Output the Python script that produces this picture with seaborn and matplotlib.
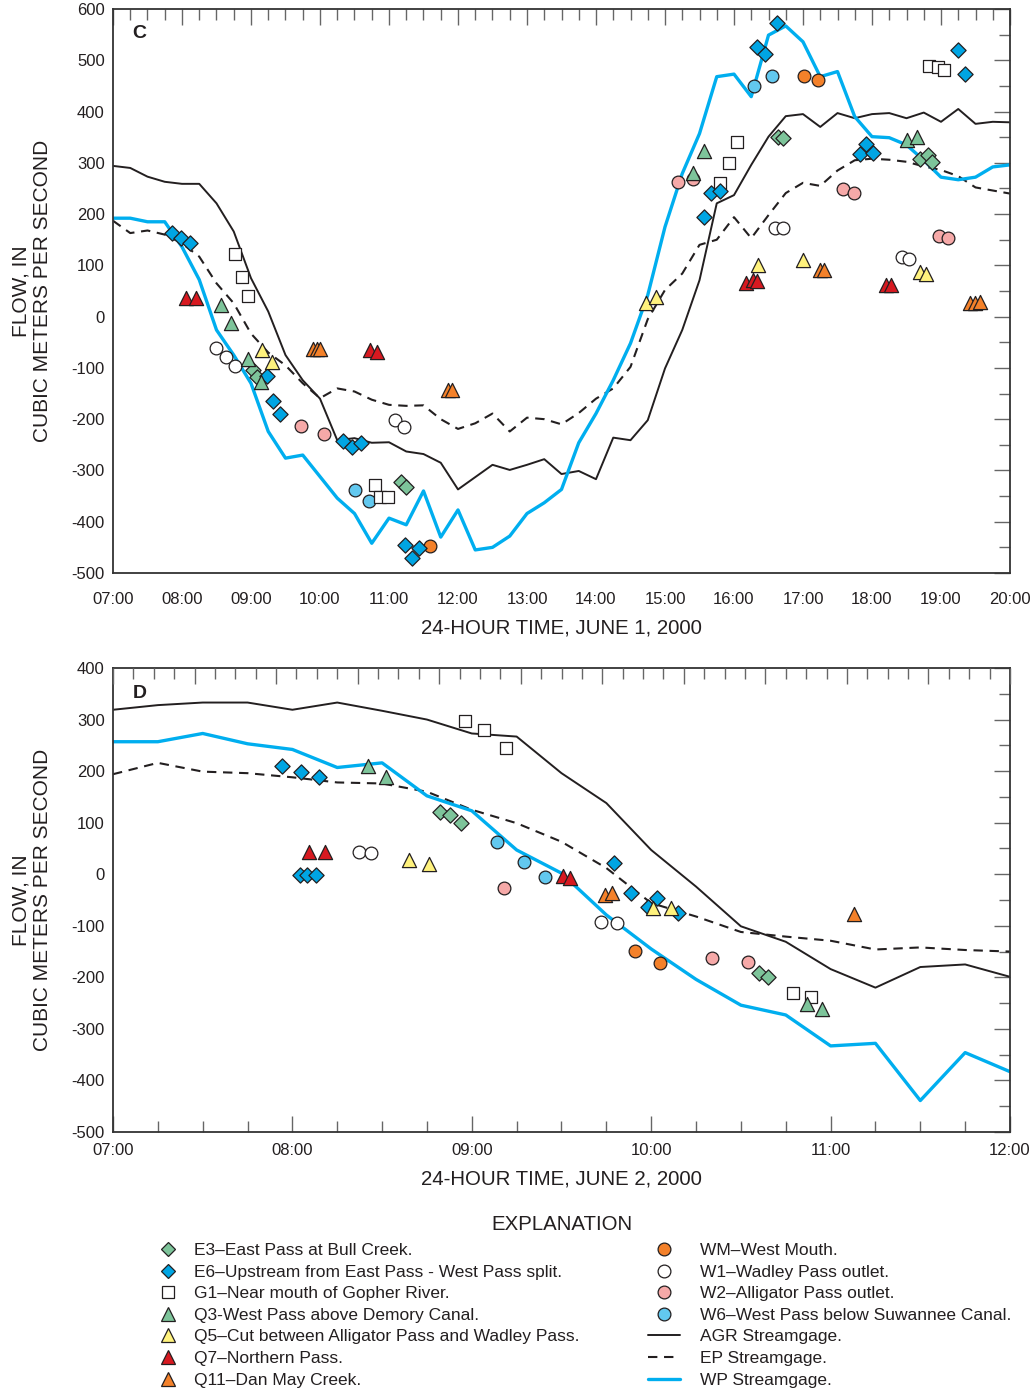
import numpy as np
import pandas as pd
import matplotlib
matplotlib.use("Agg")
import matplotlib.pyplot as plt
from matplotlib.ticker import MultipleLocator, FuncFormatter
from matplotlib.lines import Line2D
import seaborn as sns

# ---------------------------------------------------------------------------
# Streamgage records (15-minute values), flow in cubic meters per second
# ---------------------------------------------------------------------------
c_hours = np.arange(7.0, 20.001, 0.25)
c_agr = [294, 290, 273, 263, 259, 259, 221, 166, 75, 10, -75, -124, -160,
         -241, -237, -246, -245, -263, -268, -285, -337, -313, -289, -299,
         -289, -278, -307, -301, -317, -236, -241, -202, -101, -26, 71, 221,
         237, 296, 351, 391, 395, 370, 397, 387, 395, 397, 387, 398, 380,
         405, 376, 380, 379]
c_ep = [187, 163, 168, 160, 143, 117, 65, 26, -33, -70, -95, -130, -159,
        -140, -146, -162, -172, -174, -173, -200, -219, -208, -189, -224,
        -197, -200, -210, -188, -160, -140, -98, -5, 52, 84, 140, 150, 194,
        153, 198, 241, 261, 255, 285, 305, 308, 306, 302, 293, 286, 274,
        252, 246, 240]
c_wp = [192, 192, 185, 185, 136, 72, -26, -75, -130, -224, -276, -270,
        -312, -354, -384, -442, -393, -406, -340, -430, -377, -455, -450,
        -428, -384, -363, -337, -246, -189, -124, -52, 42, 175, 279, 357,
        468, 473, 429, 549, 567, 536, 468, 478, 390, 351, 349, 335, 305,
        272, 267, 272, 292, 296]

d_hours = np.arange(7.0, 12.001, 0.25)
d_agr = [319, 328, 333, 333, 319, 333, 317, 300, 273, 267, 196, 138, 47,
         -24, -101, -131, -184, -220, -180, -175, -199]
d_ep = [194, 216, 199, 196, 188, 178, 176, 160, 125, 99, 63, 12, -56, -82,
        -112, -121, -129, -146, -142, -147, -150]
d_wp = [257, 257, 273, 253, 242, 207, 216, 152, 123, 47, 2, -79, -145,
        -204, -254, -273, -333, -328, -439, -346, -383]

# ---------------------------------------------------------------------------
# Site measurements, June 1, 2000 (hour of day, flow)
# ---------------------------------------------------------------------------
c_e3_hour = [9.03, 9.08, 11.17, 11.25, 16.64, 16.71, 18.70, 18.81, 18.87]
c_e3_flow = [-104, -117, -322, -333, 351, 348, 307, 315, 301]
c_e6_hour = [7.86, 7.99, 8.12, 9.23, 9.32, 9.42, 10.34, 10.47, 10.59, 11.23,
             11.34, 11.43, 15.56, 15.66, 15.79, 16.33, 16.45, 16.63, 17.82,
             17.91, 18.01, 19.24, 19.35]
c_e6_flow = [163, 153, 144, -115, -164, -189, -242, -254, -247, -445, -470,
             -451, 194, 242, 245, 526, 513, 572, 318, 336, 320, 520, 473]
c_g1_hour = [8.77, 8.87, 8.96, 10.80, 10.87, 10.99, 15.80, 15.93, 16.05,
             18.83, 18.95, 19.05]
c_g1_flow = [122, 78, 41, -328, -352, -352, 260, 299, 341, 489, 486, 482]
c_q3_hour = [8.56, 8.71, 8.96, 9.14, 15.41, 15.57, 18.51, 18.65]
c_q3_flow = [23, -12, -83, -127, 281, 324, 344, 351]
c_q5_hour = [9.16, 9.31, 14.72, 14.87, 16.35, 17.00, 18.70, 18.78]
c_q5_flow = [-65, -88, 26, 38, 101, 110, 88, 83]
c_q7_hour = [8.06, 8.20, 10.72, 10.83, 16.18, 16.27, 16.34, 18.20, 18.28]
c_q7_flow = [36, 36, -65, -68, 65, 71, 70, 62, 62]
c_q11_hour = [9.90, 9.95, 10.00, 11.86, 11.91, 17.25, 17.30, 19.42, 19.49,
              19.57]
c_q11_flow = [-64, -64, -64, -143, -143, 91, 91, 26, 26, 29]
c_wm_hour = [11.59, 17.02, 17.22]
c_wm_flow = [-447, 469, 462]
c_w1_hour = [8.49, 8.64, 8.77, 11.08, 11.22, 16.59, 16.71, 18.43, 18.53]
c_w1_flow = [-61, -78, -96, -202, -215, 173, 173, 117, 112]
c_w2_hour = [9.72, 10.06, 15.19, 15.41, 17.58, 17.74, 18.97, 19.10]
c_w2_flow = [-213, -228, 263, 268, 249, 242, 158, 153]
c_w6_hour = [10.51, 10.71, 16.29, 16.55]
c_w6_flow = [-338, -359, 450, 469]

# Site measurements, June 2, 2000
d_e3_hour = [8.82, 8.88, 8.94, 10.60, 10.65]
d_e3_flow = [121, 115, 99, -191, -199]
d_e6_hour = [7.94, 8.05, 8.15, 8.04, 8.08, 8.13, 9.79, 9.89, 9.98, 10.03,
             10.15]
d_e6_flow = [209, 199, 188, -2, -2, -2, 22, -37, -63, -47, -75]
d_g1_hour = [8.96, 9.07, 9.19, 10.79, 10.89]
d_g1_flow = [298, 280, 244, -231, -239]
d_q3_hour = [8.42, 8.52, 10.87, 10.95]
d_q3_flow = [210, 188, -252, -262]
d_q5_hour = [8.65, 8.76, 10.01, 10.11]
d_q5_flow = [28, 20, -65, -66]
d_q7_hour = [8.09, 8.18, 9.51, 9.55]
d_q7_flow = [44, 44, -3, -8]
d_q11_hour = [9.74, 9.78, 11.13]
d_q11_flow = [-40, -37, -78]
d_wm_hour = [9.91, 10.05]
d_wm_flow = [-149, -173]
d_w1_hour = [8.37, 8.44, 9.72, 9.81]
d_w1_flow = [44, 42, -93, -94]
d_w2_hour = [9.18, 10.34, 10.54]
d_w2_flow = [-27, -163, -170]
d_w6_hour = [9.14, 9.29, 9.41]
d_w6_flow = [63, 23, -6]

# ---------------------------------------------------------------------------
# Styling
# ---------------------------------------------------------------------------
sns.set_style("white")
plt.rcParams["font.family"] = ["Liberation Sans", "DejaVu Sans"]
plt.rcParams["axes.unicode_minus"] = False

EDGE = "#231f20"
GREEN = "#7dc49a"
BLUE = "#00a5e3"
YELLOW = "#fff27d"
RED = "#d71920"
ORANGE = "#f4812a"
PINK = "#f6a9a8"
LIGHTBLUE = "#62c8ef"
WP_BLUE = "#00aeef"

# site key -> (label, marker, face colour, scatter size, legend size)
site_style = {
    "E3": ("E3\u2013East Pass at Bull Creek.", "D", GREEN, 60, 7.2),
    "E6": ("E6\u2013Upstream from East Pass - West Pass split.", "D", BLUE, 60, 7.2),
    "G1": ("G1\u2013Near mouth of Gopher River.", "s", "white", 66, 8.0),
    "Q3": ("Q3-West Pass above Demory Canal.", "^", GREEN, 104, 10.0),
    "Q5": ("Q5\u2013Cut between Alligator Pass and Wadley Pass.", "^", YELLOW, 104, 10.0),
    "Q7": ("Q7\u2013Northern Pass.", "^", RED, 104, 10.0),
    "Q11": ("Q11\u2013Dan May Creek.", "^", ORANGE, 104, 10.0),
    "WM": ("WM\u2013West Mouth.", "o", ORANGE, 84, 9.2),
    "W1": ("W1\u2013Wadley Pass outlet.", "o", "white", 84, 9.2),
    "W2": ("W2\u2013Alligator Pass outlet.", "o", PINK, 84, 9.2),
    "W6": ("W6\u2013West Pass below Suwannee Canal.", "o", LIGHTBLUE, 84, 9.2),
}
draw_order = ["W2", "W1", "W6", "WM", "G1", "E3", "E6", "Q3", "Q5", "Q7", "Q11"]

day1_sites = {
    "E3": (c_e3_hour, c_e3_flow), "E6": (c_e6_hour, c_e6_flow),
    "G1": (c_g1_hour, c_g1_flow), "Q3": (c_q3_hour, c_q3_flow),
    "Q5": (c_q5_hour, c_q5_flow), "Q7": (c_q7_hour, c_q7_flow),
    "Q11": (c_q11_hour, c_q11_flow), "WM": (c_wm_hour, c_wm_flow),
    "W1": (c_w1_hour, c_w1_flow), "W2": (c_w2_hour, c_w2_flow),
    "W6": (c_w6_hour, c_w6_flow),
}
day2_sites = {
    "E3": (d_e3_hour, d_e3_flow), "E6": (d_e6_hour, d_e6_flow),
    "G1": (d_g1_hour, d_g1_flow), "Q3": (d_q3_hour, d_q3_flow),
    "Q5": (d_q5_hour, d_q5_flow), "Q7": (d_q7_hour, d_q7_flow),
    "Q11": (d_q11_hour, d_q11_flow), "WM": (d_wm_hour, d_wm_flow),
    "W1": (d_w1_hour, d_w1_flow), "W2": (d_w2_hour, d_w2_flow),
    "W6": (d_w6_hour, d_w6_flow),
}

AGR_KW = dict(color="#231f20", linewidth=1.4, linestyle="-")
EP_KW = dict(color="#231f20", linewidth=1.5, linestyle=(0, (4.5, 3.2)))
WP_KW = dict(color=WP_BLUE, linewidth=2.4, linestyle="-")

W, H = 1032, 1395
fig = plt.figure(figsize=(W / 100, H / 100), dpi=100)


def px_axes(left, top, right, bottom):
    return fig.add_axes([left / W, 1 - bottom / H, (right - left) / W, (bottom - top) / H])


ax_c = px_axes(113, 9, 1010, 573)
ax_d = px_axes(113, 668, 1010, 1132)


def draw_panel(ax, hours, agr, ep, wp, sites, xlim, ylim, xlabel, xpad, labelpad):
    gages = pd.DataFrame({"hour": hours, "AGR": agr, "EP": ep, "WP": wp})
    sns.lineplot(data=gages, x="hour", y="AGR", ax=ax, estimator=None, sort=False, zorder=2, **AGR_KW)
    sns.lineplot(data=gages, x="hour", y="EP", ax=ax, estimator=None, sort=False, zorder=2, **EP_KW)
    sns.lineplot(data=gages, x="hour", y="WP", ax=ax, estimator=None, sort=False, zorder=2, **WP_KW)

    for z, key in enumerate(draw_order):
        h, f = sites[key]
        _, mk, fc, size, _ = site_style[key]
        sns.scatterplot(x=h, y=f, ax=ax, marker=mk, s=size, color=fc,
                        edgecolor=EDGE, linewidth=0.9, zorder=3 + z * 0.01)

    ax.set_xlim(*xlim)
    ax.set_ylim(*ylim)
    ax.xaxis.set_major_locator(MultipleLocator(1))
    ax.xaxis.set_minor_locator(MultipleLocator(0.25))
    ax.yaxis.set_major_locator(MultipleLocator(100))
    ax.yaxis.set_minor_locator(MultipleLocator(50))
    ax.xaxis.set_major_formatter(FuncFormatter(lambda v, _: f"{int(round(v)):02d}:00"))
    ax.yaxis.set_major_formatter(FuncFormatter(lambda v, _: f"{int(round(v))}"))
    ax.tick_params(which="both", direction="in", top=True, right=True,
                   color="#666666", width=1.0, labelsize=12, labelcolor="#231f20")
    ax.tick_params(which="major", length=11.3)
    ax.tick_params(which="minor", length=7.7)
    ax.tick_params(axis="x", which="major", pad=xpad)
    ax.tick_params(axis="y", which="major", pad=6)
    for sp in ax.spines.values():
        sp.set_color("#333333")
        sp.set_linewidth(1.3)

    ax.set_xlabel(xlabel, fontsize=14.7, color="#231f20", labelpad=labelpad)
    ax.set_ylabel("FLOW, IN\nCUBIC METERS PER SECOND", fontsize=15,
                  color="#231f20", linespacing=1.2)
    ax.yaxis.set_label_coords(-0.068, 0.5)
    return ax


draw_panel(ax_c, c_hours, c_agr, c_ep, c_wp, day1_sites, (7, 20), (-500, 600),
           "24-HOUR TIME, JUNE 1, 2000", 13.5, 8.5)
draw_panel(ax_d, d_hours, d_agr, d_ep, d_wp, day2_sites, (7, 12), (-500, 400),
           "24-HOUR TIME, JUNE 2, 2000", 7.7, 8.5)

ax_c.text(0.022, 0.957, "C", transform=ax_c.transAxes, fontsize=14,
          fontweight="bold", ha="left", va="center", color="#231f20")
ax_d.text(0.022, 0.946, "D", transform=ax_d.transAxes, fontsize=14,
          fontweight="bold", ha="left", va="center", color="#231f20")

# June 2 panel: the top edge carries its own tick scale
ax_d.tick_params(which="both", top=False)
ax_top = ax_d.twiny()
ax_top.set_xlim(0, 11)
ax_top.xaxis.set_major_locator(MultipleLocator(1))
ax_top.xaxis.set_minor_locator(MultipleLocator(0.25))
ax_top.tick_params(axis="x", which="both", direction="in", top=True, bottom=False,
                   labeltop=False, labelbottom=False, color="#666666", width=1.0)
ax_top.tick_params(axis="x", which="major", length=11.3)
ax_top.tick_params(axis="x", which="minor", length=7.7)
for sp in ax_top.spines.values():
    sp.set_visible(False)

# ---------------------------------------------------------------------------
# Explanation
# ---------------------------------------------------------------------------
fig.text(562 / W, 1 - 1224 / H, "EXPLANATION", ha="center", va="center",
         fontsize=14.7, color="#231f20")

left_keys = ["E3", "E6", "G1", "Q3", "Q5", "Q7", "Q11"]
right_keys = ["WM", "W1", "W2", "W6"]


def marker_handle(key):
    _, mk, fc, _, ms = site_style[key]
    return Line2D([], [], linestyle="none", marker=mk, markersize=ms,
                  markerfacecolor=fc, markeredgecolor=EDGE, markeredgewidth=0.9)


left_handles = [marker_handle(k) for k in left_keys]
left_labels = [site_style[k][0] for k in left_keys]
right_handles = [marker_handle(k) for k in right_keys] + [
    Line2D([], [], **AGR_KW), Line2D([], [], **EP_KW), Line2D([], [], **WP_KW)]
right_labels = [site_style[k][0] for k in right_keys] + [
    "AGR Streamgage.", "EP Streamgage.", "WP Streamgage."]

legend_kw = dict(loc="upper left", frameon=False, fontsize=12.5, borderpad=0,
                 borderaxespad=0, labelspacing=0.37, labelcolor="#231f20")
fig.legend(left_handles, left_labels, bbox_to_anchor=(158 / W, 1 - 1243 / H),
           handlelength=1.2, handletextpad=0.88, **legend_kw)
fig.legend(right_handles, right_labels, bbox_to_anchor=(648 / W, 1 - 1243 / H),
           handlelength=1.84, handletextpad=1.15, **legend_kw)

fig.savefig("out.png", dpi=100, facecolor="white")
